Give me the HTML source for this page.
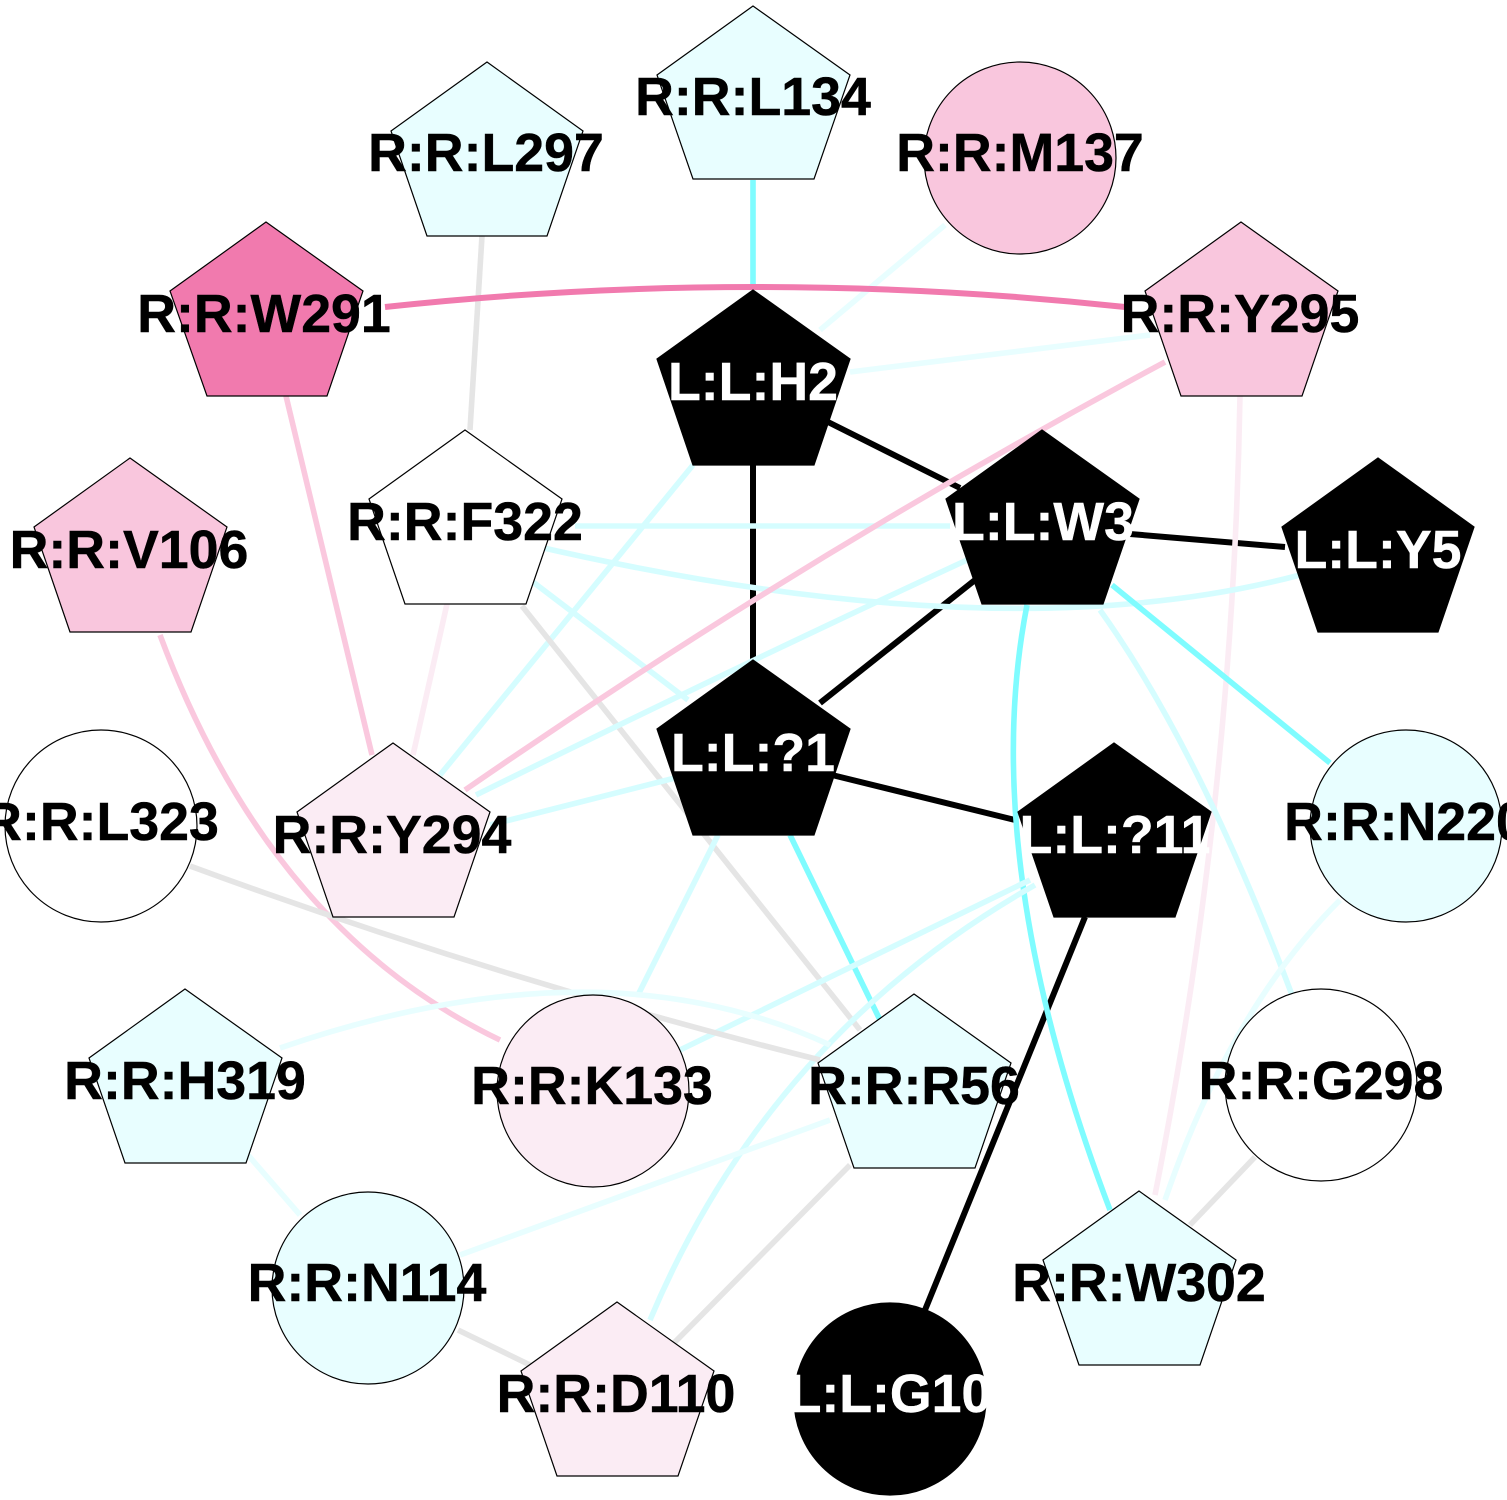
<!DOCTYPE html>
<html><head><meta charset="utf-8"><style>
html,body{margin:0;padding:0;background:#fff}
svg{display:block}
text{font-family:"Liberation Sans",Arial,sans-serif;font-weight:bold;font-size:53.7px;text-anchor:middle;stroke:#000;stroke-width:.5}
text.t{fill:#fff;stroke:#fff}
.e{fill:none;stroke-width:5.6}
.c1{stroke:#7ffcff}.c2{stroke:#d5fdff}.c3{stroke:#e8feff}.g{stroke:#e5e5e5}.k{stroke:#000;stroke-width:6}
.p1{stroke:#f17aae;stroke-width:6}.p2{stroke:#fac8de}.p3{stroke:#fbecf4}
.n{stroke:#000;stroke-width:1.2}
.w{fill:#fff}.b{fill:#000}
</style></head><body>
<svg width="1507" height="1500" viewBox="0 0 1507 1500" xmlns="http://www.w3.org/2000/svg">
<rect width="1507" height="1500" fill="#fff"/>
<g class="edges">
<path class="e k" d="M828 422L960 488"/>
<path class="e k" d="M753 465L753 660"/>
<path class="e k" d="M975 580L820 703"/>
<path class="e k" d="M1130 534L1285 547"/>
<path class="e k" d="M832 775L1015 820"/>
<path class="e k" d="M1085 917L925 1310"/>
<path class="e c1" d="M753 180L753 290"/>
<path class="e c3" d="M945 225L820 330"/>
<path class="e g" d="M482 236L470 430"/>
<path class="e p1" d="M385 307Q755 267 1125 307"/>
<path class="e c3" d="M1150 335L850 372"/>
<path class="e c2" d="M693 465L440 775"/>
<path class="e p2" d="M286 396L372 755"/>
<path class="e p3" d="M1240 396Q1233 800 1155 1195"/>
<path class="e p3" d="M447 604L413 755"/>
<path class="e c2" d="M575 526L950 526"/>
<path class="e c2" d="M535 546Q1003 654 1300 575"/>
<path class="e c2" d="M533 582L688 700"/>
<path class="e g" d="M522 606L860 1030"/>
<path class="e p2" d="M1165 362Q805 555 465 790"/>
<path class="e c2" d="M967 560Q740 665 476 795"/>
<path class="e c1" d="M1112 585L1330 763"/>
<path class="e c2" d="M1100 610Q1200 750 1292 995"/>
<path class="e c1" d="M1027 605Q977 860 1110 1210"/>
<path class="e c2" d="M675 778L490 825"/>
<path class="e c2" d="M718 835L638 995"/>
<path class="e c1" d="M790 835L880 1020"/>
<path class="e c2" d="M1030 880L680 1050"/>
<path class="e c2" d="M1035 885Q770 1035 650 1320"/>
<path class="e p2" d="M160 635Q270 930 500 1040"/>
<path class="e g" d="M190 866Q500 980 820 1060"/>
<path class="e c3" d="M280 1048Q600 938 830 1045"/>
<path class="e c3" d="M248 1155L300 1215"/>
<path class="e c3" d="M460 1255L830 1120"/>
<path class="e g" d="M458 1330L530 1365"/>
<path class="e g" d="M850 1165L672 1345"/>
<path class="e c3" d="M1340 900Q1230 1010 1165 1200"/>
<path class="e g" d="M1255 1157L1190 1225"/>
</g>
<g class="nodes">
<polygon class="n" fill="#e8feff" points="753,6 850,75 814,179 693,179 657,75"/>
<polygon class="n" fill="#e8feff" points="487,62 583,131 547,236 427,236 391,131"/>
<polygon class="n" fill="#f17aae" points="266,222 363,291 327,396 207,396 170,291"/>
<polygon class="n" fill="#f9c6dd" points="1241,222 1338,291 1302,396 1181,396 1145,291"/>
<polygon class="n b" points="753,290 850,359 814,465 693,465 657,359"/>
<polygon class="n w" points="465,430 562,499 526,604 405,604 369,499"/>
<polygon class="n b" points="1042,430 1139,499 1103,604 982,604 946,499"/>
<polygon class="n b" points="1378,458 1474,527 1438,632 1318,632 1282,527"/>
<polygon class="n" fill="#f9c6dd" points="130,458 227,527 191,632 70,632 34,527"/>
<polygon class="n b" points="753,660 850,729 814,835 693,835 657,729"/>
<polygon class="n" fill="#fbecf4" points="393,743 490,812 454,917 333,917 297,812"/>
<polygon class="n b" points="1114,743 1211,812 1175,917 1054,917 1018,812"/>
<polygon class="n" fill="#e8feff" points="185,989 282,1058 246,1163 125,1163 89,1058"/>
<polygon class="n" fill="#e8feff" points="914,994 1011,1063 975,1168 854,1168 818,1063"/>
<polygon class="n" fill="#e8feff" points="1139,1191 1236,1260 1200,1365 1079,1365 1043,1260"/>
<polygon class="n" fill="#fbecf4" points="617,1302 714,1371 678,1476 557,1476 521,1371"/>
<circle class="n" fill="#f9c6dd" cx="1020" cy="158" r="96"/>
<circle class="n w" cx="101" cy="826" r="96"/>
<circle class="n" fill="#e8feff" cx="1406" cy="826" r="96"/>
<circle class="n" fill="#fbecf4" cx="593" cy="1091" r="96"/>
<circle class="n w" cx="1321" cy="1085" r="96"/>
<circle class="n" fill="#e8feff" cx="368" cy="1288" r="96"/>
<circle class="n b" cx="890" cy="1399" r="96"/>
</g>
<g class="labels">
<text x="753" y="115">R:R:L134</text>
<text x="486" y="171">R:R:L297</text>
<text x="1020" y="171">R:R:M137</text>
<text x="264" y="332">R:R:W291</text>
<text x="1240" y="332">R:R:Y295</text>
<text class="t" x="753" y="400">L:L:H2</text>
<text x="465" y="540">R:R:F322</text>
<text class="t" x="1043" y="540">L:L:W3</text>
<text x="129" y="568">R:R:V106</text>
<text class="t" x="1378" y="568">L:L:Y5</text>
<text class="t" x="753" y="771">L:L:?1</text>
<text x="392" y="853">R:R:Y294</text>
<text class="t" x="1115" y="853">L:L:?11</text>
<text x="101" y="840">R:R:L323</text>
<text x="1405" y="840">R:R:N220</text>
<text x="592" y="1104">R:R:K133</text>
<text x="914" y="1104">R:R:R56</text>
<text x="185" y="1099">R:R:H319</text>
<text x="1321" y="1099">R:R:G298</text>
<text x="367" y="1301">R:R:N114</text>
<text x="1139" y="1301">R:R:W302</text>
<text x="616" y="1412">R:R:D110</text>
<text class="t" x="890" y="1412">L:L:G10</text>
</g>
</svg>
</body></html>
